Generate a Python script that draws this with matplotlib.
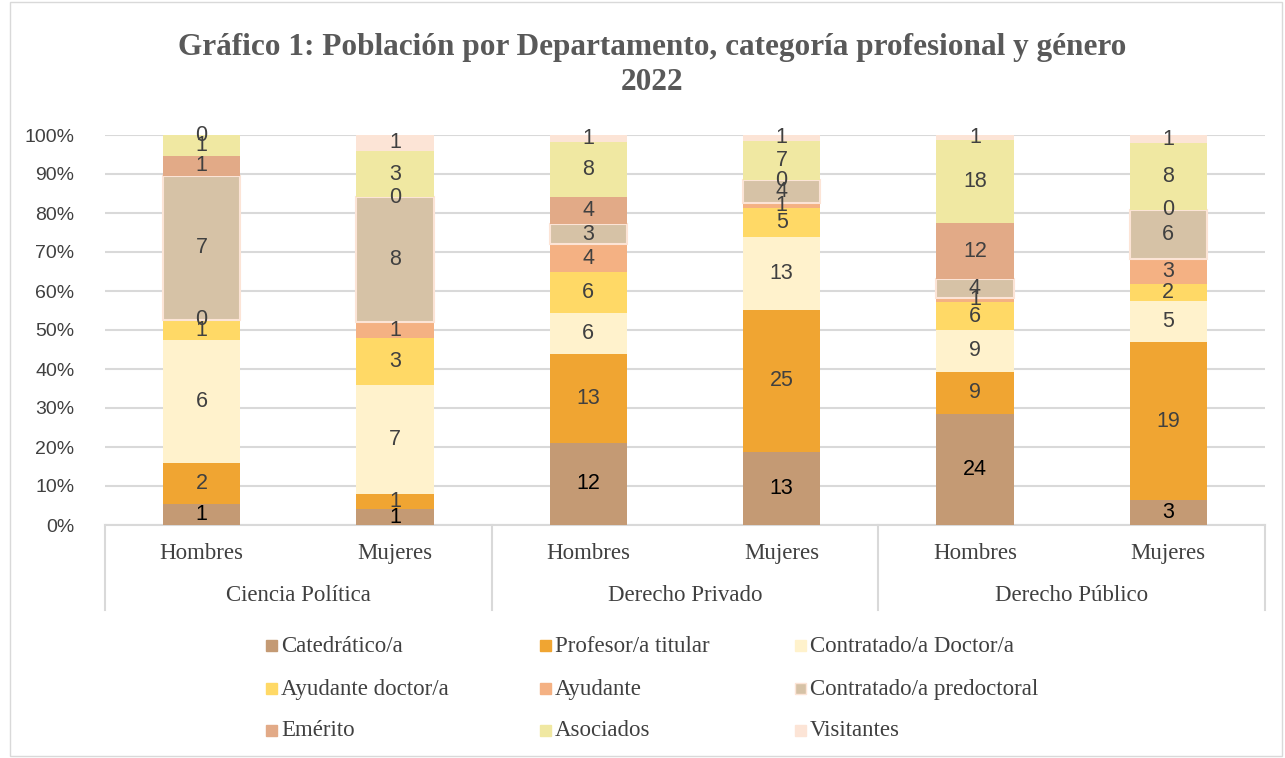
import matplotlib.pyplot as plt
from matplotlib.patches import Rectangle
import numpy as np

# data (counts per category, per column)
groups = ['Hombres', 'Mujeres', 'Hombres', 'Mujeres', 'Hombres', 'Mujeres']
departments = ['Ciencia Política', 'Derecho Privado', 'Derecho Público']
categories = ['Catedrático/a', 'Profesor/a titular', 'Contratado/a Doctor/a',
              'Ayudante doctor/a', 'Ayudante', 'Contratado/a predoctoral',
              'Emérito', 'Asociados', 'Visitantes']
catedratico = [1, 1, 12, 13, 24, 3]
titular = [2, 1, 13, 25, 9, 19]
contratado_doctor = [6, 7, 6, 13, 9, 5]
ayudante_doctor = [1, 3, 6, 5, 6, 2]
ayudante = [0, 1, 4, 1, 1, 3]
predoctoral = [7, 8, 3, 4, 4, 6]
emerito = [1, 0, 4, 0, 12, 0]
asociados = [1, 3, 8, 7, 18, 8]
visitantes = [0, 1, 1, 1, 1, 1]

series = [catedratico, titular, contratado_doctor, ayudante_doctor, ayudante,
          predoctoral, emerito, asociados, visitantes]
colors = ['#C49A74', '#F0A532', '#FFF2CC', '#FFD966', '#F4B183',
          '#D6C2A6', '#E2AA87', '#F0E8A2', '#FCE4D6']

W, H = 1285, 758
fig = plt.figure(figsize=(W / 100, H / 100), dpi=100)
fig.patches.append(Rectangle((10 / W, 2 / H), 1272 / W, 754 / H, transform=fig.transFigure,
                             facecolor='none', edgecolor='#D9D9D9', lw=1))

ax = fig.add_axes([105 / W, 1 - 525 / H, 1160 / W, 390 / H])

data = np.array(series, dtype=float)
totals = data.sum(axis=0)
pct = data / totals * 100
x = np.arange(len(groups))
bottom = np.zeros(len(groups))
for i, (vals, col) in enumerate(zip(pct, colors)):
    ec = '#FCE4D6' if i == 5 else 'none'
    ax.bar(x, vals, 0.4, bottom=bottom, color=col, edgecolor=ec, linewidth=1.5, zorder=3)
    for j in range(len(groups)):
        tc = 'black' if i == 0 else '#404040'
        ax.text(x[j], bottom[j] + vals[j] / 2, str(int(data[i][j])), ha='center', va='center',
                fontsize=15.5, color=tc, family='Liberation Sans', zorder=4)
    bottom += vals

ax.set_xlim(-0.5, 5.5)
ax.set_ylim(0, 100)
ax.set_yticks(np.arange(0, 101, 10))
ax.set_yticklabels([f'{v}%' for v in range(0, 101, 10)], family='Liberation Sans',
                   fontsize=14, color='#404040')
ax.yaxis.grid(True, color='#D9D9D9', lw=1.5, zorder=0)
ax.tick_params(axis='y', length=0, pad=22)
ax.set_xticks([])
for s in ['top', 'right', 'left']:
    ax.spines[s].set_visible(False)
ax.spines['bottom'].set_color('#D9D9D9')
ax.spines['bottom'].set_linewidth(1.5)

# hierarchical category axis
tr = ax.get_xaxis_transform()
for xb in [-0.5, 1.5, 3.5, 5.5]:
    ax.plot([xb, xb], [0, -0.218], transform=tr, color='#D9D9D9', lw=1.5, clip_on=False)
for j, g in enumerate(groups):
    ax.text(j, -0.072, g, transform=tr, ha='center', va='center', fontsize=16.5,
            family='Liberation Serif', color='#404040')
for k, d in enumerate(departments):
    ax.text(2 * k + 0.5, -0.182, d, transform=tr, ha='center', va='center', fontsize=16.5,
            family='Liberation Serif', color='#404040')

fig.text(652 / W, 1 - 47 / H, 'Gráfico 1: Población por Departamento, categoría profesional y género',
         ha='center', va='center', fontsize=22.5, fontweight='bold', family='Liberation Serif',
         color='#595959')
fig.text(652 / W, 1 - 83 / H, '2022', ha='center', va='center', fontsize=22.5, fontweight='bold',
         family='Liberation Serif', color='#595959')

# legend
col_x = [266, 540, 795]
row_y = [646, 689, 731]
for i, (cat, col) in enumerate(zip(categories, colors)):
    cx = col_x[i % 3]
    cy = row_y[i // 3]
    ec = '#FCE4D6' if i == 5 else col
    fig.patches.append(Rectangle((cx / W, (H - cy - 5) / H), 11 / W, 11 / H,
                                 transform=fig.transFigure, facecolor=col, edgecolor=ec, lw=1))
    fig.text((cx + 15) / W, 1 - cy / H, cat, ha='left', va='center', fontsize=16.5,
             family='Liberation Serif', color='#404040')

fig.savefig('out.png', dpi=100)
